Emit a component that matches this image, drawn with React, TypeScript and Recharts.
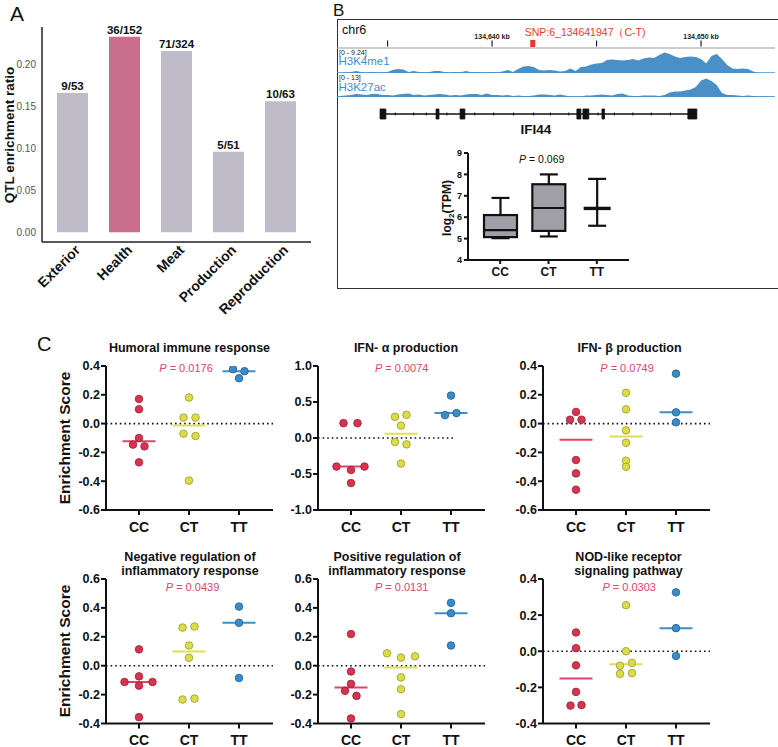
import React from "react";
import {
  BarChart,
  Bar,
  Cell,
  LabelList,
  XAxis,
  YAxis,
  AreaChart,
  Area,
  ComposedChart,
  ScatterChart,
  Scatter,
  ReferenceLine,
  ReferenceArea,
} from "recharts";

const FONT = '"Liberation Sans", Arial, Helvetica, sans-serif';

// ---- panel A: QTL enrichment ----
const qtlCategories = ["Exterior", "Health", "Meat", "Production", "Reproduction"];
const qtlRatios = [0.166, 0.233, 0.216, 0.096, 0.156];
const qtlCounts = ["9/53", "36/152", "71/324", "5/51", "10/63"];
const qtlHighlight = "Health";

// ---- panel B: genome browser tracks (signal per 0.25 kb bin) ----
const trackStartKb = 134632.5;
const trackBinKb = 0.25;
const kbDomain = [134632.58, 134653.54];
const snpKb = 134641.947;
const rulerTicks = [134635, 134640, 134645, 134650];
const rulerLabels: Record<number, string> = { 134640: "134,640 kb", 134650: "134,650 kb" };

const h3k4me1 = [
  0.12, 0.12, 0.2, 0.4, 0.8, 0.32, 0.2, 0.4, 0.2, 0.32,
  0.4, 1.2, 1.6, 1.4, 0.4, 0.8, 0.4, 0.2, 0.4, 0.8,
  0.8, 0.32, 0.2, 0.4, 0.32, 0.8, 0.32, 0.4, 0.2, 0.2,
  0.4, 0.2, 0.6, 1.2, 0.4, 1.6, 2.6, 2.8, 2.4, 1.2,
  1.0, 1.2, 1.0, 0.6, 0.8, 1.8, 0.8, 2.4, 2.6, 3.4,
  3.8, 4.0, 5.2, 5.4, 5.2, 5.0, 5.2, 5.6, 5.0, 5.8,
  6.2, 6.0, 7.2, 8.2, 7.6, 6.6, 6.0, 6.4, 6.6, 6.4,
  5.6, 3.8, 6.8, 7.6, 5.6, 3.2, 1.8, 1.6, 1.8, 1.6,
  0.6, 0, 0, 0, 0,
];
const h3k27ac = [
  0.62, 0.62, 0.93, 1.24, 1.86, 1.55, 1.24, 1.86, 1.86, 1.24,
  1.24, 0.93, 1.55, 1.86, 2.17, 1.24, 1.55, 0.93, 1.24, 1.55,
  1.86, 1.55, 0.93, 1.24, 0.93, 1.55, 1.86, 1.86, 1.24, 2.17,
  1.24, 1.24, 0.93, 1.24, 0.62, 0.93, 0.62, 0.62, 0.93, 1.55,
  1.55, 1.24, 0.93, 1.55, 0.93, 0.31, 0.31, 0.31, 0.93, 0.93,
  1.24, 1.55, 1.24, 0.93, 1.86, 2.17, 0.93, 0.62, 0.62, 0.93,
  0.93, 0.93, 0.62, 1.24, 2.79, 3.41, 3.41, 4.03, 4.65, 6.2,
  10.2, 11.5, 9.9, 7.4, 2.48, 1.24, 1.24, 0.93, 0.62, 0.93,
  0.62, 0.31, 0.31, 0.31, 0.31,
];

// IFI44 gene model (kb)
const exonStarts = [134634.64, 134637.32, 134638.47, 134644.06, 134644.35, 134645.26, 134649.37];
const exonEnds = [134634.92, 134637.46, 134638.7, 134644.25, 134644.63, 134645.38, 134649.8];
const intronMarks = [
  134635.37, 134636.25, 134636.85, 134637.84, 134639.17, 134640.08, 134641.03, 134641.99,
  134642.79, 134643.67, 134645.07, 134645.85, 134646.74, 134647.62, 134648.53,
];

// IFI44 expression box plot
const genotypes = ["CC", "CT", "TT"];
const tpmMin = [5.02, 5.1, 5.6];
const tpmQ1 = [5.07, 5.36, 6.41];
const tpmMedian = [5.4, 6.43, 6.41];
const tpmQ3 = [6.1, 7.54, 6.41];
const tpmMax = [6.9, 8.0, 7.79];

// ---- panel C: enrichment scores ----
const humoralCC = [0.171, 0.1, -0.1, -0.146, -0.158, -0.269];
const humoralCCJit = [0, 0, 0, -0.12, 0.11, 0];
const humoralCT = [0.181, 0.042, 0.042, -0.07, -0.086, -0.396];
const humoralCTJit = [0, -0.11, 0.13, -0.11, 0.13, 0];
const humoralTT = [0.378, 0.364, 0.315];
const humoralTTJit = [-0.12, 0.11, 0];

const ifnaCC = [0.206, 0.206, -0.397, -0.397, -0.444, -0.626];
const ifnaCCJit = [-0.15, 0.13, -0.29, 0.27, 0, 0];
const ifnaCT = [0.294, 0.322, 0.173, -0.056, -0.089, -0.355];
const ifnaCTJit = [-0.12, 0.11, 0, -0.12, 0.11, 0];
const ifnaTT = [0.589, 0.318, 0.346];
const ifnaTTJit = [0, -0.12, 0.11];

const ifnbCC = [0.081, 0.027, 0.027, -0.253, -0.346, -0.459];
const ifnbCCJit = [0, -0.12, 0.11, 0, 0, 0];
const ifnbCT = [0.214, 0.099, -0.047, -0.133, -0.258, -0.3];
const ifnbCTJit = [0, 0, 0, 0, 0, 0];
const ifnbTT = [0.347, 0.078, 0.009];
const ifnbTTJit = [0, 0, 0];

const negCC = [0.113, -0.074, -0.113, -0.113, -0.138, -0.356];
const negCCJit = [0, 0, -0.29, 0.27, 0, 0];
const negCT = [0.264, 0.271, 0.14, 0.055, -0.234, -0.228];
const negCTJit = [-0.13, 0.11, 0, 0, -0.13, 0.11];
const negTT = [0.409, 0.297, -0.085];
const negTTJit = [0, 0, 0];

const posCC = [0.219, -0.04, -0.126, -0.174, -0.209, -0.365];
const posCCJit = [0, 0, 0, -0.12, 0.11, 0];
const posCT = [0.086, 0.056, 0.065, -0.081, -0.163, -0.335];
const posCTJit = [-0.28, 0, 0.28, 0, 0, 0];
const posTT = [0.435, 0.363, 0.14];
const posTTJit = [0, 0, 0];

const nodCC = [0.104, 0.017, -0.078, -0.225, -0.301, -0.298];
const nodCCJit = [0, 0, 0, 0, -0.11, 0.11];
const nodCT = [0.255, 0, -0.08, -0.065, -0.125, -0.121];
const nodCTJit = [0, 0, -0.12, 0.12, -0.12, 0.12];
const nodTT = [0.326, 0.128, -0.026];
const nodTTJit = [0, 0, 0];

const dotFill = ["#d8344f", "#dcdb48", "#3a8cc8"];
const dotEdge = ["#9a1f36", "#9a9a2a", "#1f5f8f"];
const medianColor = ["#e04366", "#e0de55", "#3e8fca"];
const pColor = "#da4470";

const median = (a: number[]) => {
  const s = [...a].sort((p, q) => p - q);
  const n = s.length;
  return n % 2 ? s[(n - 1) / 2] : (s[n / 2 - 1] + s[n / 2]) / 2;
};

function T({ x, y, size = 12, bold = false, color = "#111", anchor = "middle", rotate = 0, italic = false, children }: any) {
  const tx = anchor === "middle" ? "-50%" : anchor === "end" ? "-100%" : "0";
  return (
    <div
      style={{
        position: "absolute",
        left: x,
        top: y,
        transform: `translate(${tx},-50%) rotate(${rotate}deg)`,
        fontSize: size,
        fontWeight: bold ? 700 : 400,
        fontStyle: italic ? "italic" : "normal",
        color,
        whiteSpace: "nowrap",
        lineHeight: 1,
      }}
    >
      {children}
    </div>
  );
}

const RotTick = (props: any) => {
  const { x, y, payload } = props;
  const ax = x + 9;
  const ay = y + 9;
  return (
    <text x={ax} y={ay} transform={`rotate(-45 ${ax} ${ay})`} textAnchor="end" fontSize={14} fontWeight={700} fill="#111">
      {payload.value}
    </text>
  );
};

function PanelA() {
  const data = qtlCategories.map((c, i) => ({ name: c, ratio: qtlRatios[i], count: qtlCounts[i] }));
  return (
    <div style={{ position: "absolute", left: 0, top: 0, width: 330, height: 330 }}>
      <BarChart width={320} height={330} data={data} margin={{ top: 27, right: 9, bottom: 38, left: 0 }}>
        <XAxis
          dataKey="name"
          height={50}
          interval={0}
          padding={{ left: 4, right: 5 }}
          tickSize={0}
          tickMargin={0}
          axisLine={{ stroke: "#222", strokeWidth: 1.5 }}
          tickLine={false}
          tick={<RotTick />}
        />
        <YAxis
          domain={[-0.0115, 0.2445]}
          ticks={[0, 0.05, 0.1, 0.15, 0.2]}
          allowDataOverflow
          width={42}
          tickSize={4}
          tickLine={false}
          axisLine={{ stroke: "#222", strokeWidth: 1.5 }}
          tickFormatter={(v: number) => v.toFixed(2)}
          tick={{ fill: "#555", fontSize: 10 }}
        />
        <Bar dataKey="ratio" barSize={31} isAnimationActive={false}>
          {data.map((d) => (
            <Cell key={d.name} fill={d.name === qtlHighlight ? "#c96e8c" : "#c0bbc9"} />
          ))}
          <LabelList dataKey="count" position="top" offset={3} style={{ fontWeight: 700, fontSize: 11.5, fill: "#111" }} />
        </Bar>
      </BarChart>
    </div>
  );
}

const RulerTick = (props: any) => {
  const { x, y, payload } = props;
  const v = payload.value;
  if (Math.abs(v - snpKb) < 0.01) {
    return (
      <g>
        <rect x={x - 2.5} y={y - 8} width={5} height={7} fill="#e8382e" />
        <text x={x - 8} y={y - 16.5} fontSize={10.5} fill="#e8382e" dominantBaseline="central">
          SNP:6_134641947（C-T)
        </text>
      </g>
    );
  }
  return (
    <g>
      <line x1={x} x2={x} y1={y - 7.5} y2={y - 1.5} stroke="#222" strokeWidth={1.2} />
      {rulerLabels[v] ? (
        <text x={x} y={y - 12} fontSize={7} fontWeight={700} textAnchor="middle" dominantBaseline="central" fill="#222">
          {rulerLabels[v]}
        </text>
      ) : null}
    </g>
  );
};

const IntronMark = (p: any) => <line x1={p.cx} x2={p.cx} y1={p.cy - 1.5} y2={p.cy + 1.5} stroke="#111" strokeWidth={1} />;

const BoxShape = (p: any) => {
  const { x, y, width, height, payload } = p;
  const top = Math.min(y, y + height);
  const h = Math.abs(height);
  const { min, max, q1, med, q3 } = payload;
  const py = (v: number) => top + (h * (max - v)) / (max - min);
  const cx = x + width / 2;
  const cap = 18;
  return (
    <g stroke="#111" strokeWidth={2.2} fill="none">
      <line x1={cx} x2={cx} y1={py(max)} y2={py(q3)} />
      <line x1={cx} x2={cx} y1={py(q1)} y2={py(min)} />
      <line x1={cx - cap / 2} x2={cx + cap / 2} y1={py(max)} y2={py(max)} />
      <line x1={cx - cap / 2} x2={cx + cap / 2} y1={py(min)} y2={py(min)} />
      {q3 > q1 ? <rect x={x} y={py(q3)} width={width} height={py(q1) - py(q3)} fill="#a09fa8" /> : null}
      <line x1={q3 > q1 ? x : x + 3} x2={q3 > q1 ? x + width : x + width - 3} y1={py(med)} y2={py(med)} strokeWidth={q3 > q1 ? 2.2 : 3.4} />
    </g>
  );
};

function PanelB() {
  const trackData = h3k4me1.map((v, i) => ({ kb: trackStartKb + i * trackBinKb, k4: v, k27: h3k27ac[i] }));
  const boxData = genotypes.map((g, i) => ({
    g,
    range: [tpmMin[i], tpmMax[i]],
    min: tpmMin[i],
    q1: tpmQ1[i],
    med: tpmMedian[i],
    q3: tpmQ3[i],
    max: tpmMax[i],
  }));
  const blue = "#4a8fc6";
  return (
    <>
      <div
        style={{
          position: "absolute",
          left: 337,
          top: 19,
          width: 441,
          height: 270,
          border: "1.5px solid #333",
          borderRight: "none",
          boxSizing: "border-box",
        }}
      />
      <T x={342} y={30} size={12.5} anchor="start">chr6</T>
      <div style={{ position: "absolute", left: 337, top: 20 }}>
        <AreaChart width={438} height={53} data={trackData} margin={{ top: 0, right: 0, bottom: 0, left: 0 }}>
          <XAxis
            dataKey="kb"
            type="number"
            orientation="top"
            domain={kbDomain}
            allowDataOverflow
            ticks={[...rulerTicks, snpKb].sort((a, b) => a - b)}
            interval={0}
            height={28}
            tickSize={0}
            tickMargin={0}
            axisLine={{ stroke: "#9a9a9a", strokeWidth: 1 }}
            tick={<RulerTick />}
          />
          <YAxis hide domain={[0, 10]} allowDataOverflow />
          <Area dataKey="k4" type="linear" stroke="none" fill={blue} fillOpacity={1} isAnimationActive={false} />
          <ReferenceLine y={0} stroke={blue} strokeWidth={1.5} />
        </AreaChart>
      </div>
      <div style={{ position: "absolute", left: 337, top: 76 }}>
        <AreaChart width={438} height={21} data={trackData} margin={{ top: 0, right: 0, bottom: 0, left: 0 }}>
          <XAxis dataKey="kb" type="number" domain={kbDomain} allowDataOverflow hide />
          <YAxis hide domain={[0, 13]} allowDataOverflow />
          <Area dataKey="k27" type="linear" stroke="none" fill={blue} fillOpacity={1} isAnimationActive={false} />
          <ReferenceLine y={0} stroke={blue} strokeWidth={1.5} />
        </AreaChart>
      </div>
      <T x={339} y={51.7} size={7} anchor="start" color="#222">[0 - 9.24]</T>
      <T x={338.5} y={62} size={11.5} anchor="start" color="#3d8fce">H3K4me1</T>
      <T x={339} y={77.3} size={7} anchor="start" color="#222">[0 - 13]</T>
      <T x={338.5} y={87.5} size={11.5} anchor="start" color="#3d8fce">H3K27ac</T>
      <div style={{ position: "absolute", left: 337, top: 99 }}>
        <ComposedChart width={438} height={30} margin={{ top: 0, right: 0, bottom: 0, left: 0 }}>
          <XAxis dataKey="kb" type="number" domain={kbDomain} allowDataOverflow hide />
          <YAxis hide domain={[0, 1]} />
          <ReferenceLine
            segment={[
              { x: exonStarts[0], y: 0.5 },
              { x: exonEnds[exonEnds.length - 1], y: 0.5 },
            ]}
            stroke="#111"
            strokeWidth={1.5}
          />
          {exonStarts.map((s, i) => (
            <ReferenceArea key={i} x1={s} x2={exonEnds[i]} y1={0.333} y2={0.667} fill="#111" fillOpacity={1} stroke="#111" strokeWidth={0.8} />
          ))}
          <Scatter data={intronMarks.map((kb) => ({ kb, y: 0.5 }))} dataKey="y" shape={IntronMark} isAnimationActive={false} />
        </ComposedChart>
      </div>
      <T x={536} y={130} size={13.5} bold>IFI44</T>
      <div style={{ position: "absolute", left: 420, top: 141 }}>
        <ComposedChart width={215} height={144} data={boxData} margin={{ top: 12, right: 6, bottom: 0, left: 0 }}>
          <XAxis
            dataKey="g"
            padding={{ left: 8, right: 8 }}
            height={25}
            tickSize={4}
            tickMargin={3}
            axisLine={{ stroke: "#111", strokeWidth: 2 }}
            tickLine={{ stroke: "#111", strokeWidth: 2 }}
            tick={{ fill: "#111", fontSize: 12, fontWeight: 700 }}
          />
          <YAxis
            domain={[4, 9]}
            ticks={[4, 5, 6, 7, 8, 9]}
            width={48}
            tickSize={4}
            tickMargin={2}
            axisLine={{ stroke: "#111", strokeWidth: 2 }}
            tickLine={{ stroke: "#111", strokeWidth: 2 }}
            tick={{ fill: "#111", fontSize: 9, fontWeight: 700 }}
          />
          <Bar dataKey="range" barSize={33} shape={BoxShape} isAnimationActive={false} />
        </ComposedChart>
      </div>
      <T x={446.7} y={208} size={12} bold rotate={-90}>
        log<span style={{ fontSize: 8, position: "relative", top: 3 }}>2</span>(TPM)
      </T>
      <T x={541.7} y={159} size={10.5}>
        <i>P</i> = 0.069
      </T>
    </>
  );
}

const makeDot = (gi: number) => (p: any) => (
  <circle cx={p.cx} cy={p.cy} r={3.8} fill={dotFill[gi]} stroke={dotEdge[gi]} strokeWidth={0.8} />
);
const makeMedian = (gi: number) => (p: any) => (
  <line x1={p.cx - 16.5} x2={p.cx + 16.5} y1={p.cy} y2={p.cy} stroke={medianColor[gi]} strokeWidth={2} />
);

function DotPlot({ axisX, plotTop, plotH, domain, ticks, groups, zeroEnd }: any) {
  const YW = 45;
  const PW = 167;
  const MT = 10;
  const XH = 30;
  const xDomain = [-0.66, 2.68];
  return (
    <div style={{ position: "absolute", left: axisX - YW, top: plotTop - MT }}>
      <ScatterChart width={YW + PW + 4} height={MT + plotH + XH} margin={{ top: MT, right: 4, bottom: 0, left: 0 }}>
        <XAxis
          type="number"
          dataKey="x"
          domain={xDomain}
          allowDataOverflow
          ticks={[0, 1, 2]}
          interval={0}
          tickFormatter={(v: number) => genotypes[v]}
          height={XH}
          tickSize={5}
          tickMargin={7}
          axisLine={{ stroke: "#111", strokeWidth: 2 }}
          tickLine={{ stroke: "#111", strokeWidth: 2 }}
          tick={{ fill: "#111", fontSize: 14, fontWeight: 700 }}
        />
        <YAxis
          type="number"
          dataKey="y"
          domain={domain}
          allowDataOverflow
          ticks={ticks}
          interval={0}
          width={YW}
          tickSize={5}
          tickMargin={1}
          tickFormatter={(v: number) => v.toFixed(1)}
          axisLine={{ stroke: "#111", strokeWidth: 2 }}
          tickLine={{ stroke: "#111", strokeWidth: 2 }}
          tick={{ fill: "#111", fontSize: 12.5, fontWeight: 700 }}
        />
        {zeroEnd !== undefined ? (
          <ReferenceLine
            segment={[
              { x: xDomain[0], y: 0 },
              { x: zeroEnd, y: 0 },
            ]}
            stroke="#111"
            strokeWidth={1.6}
            strokeDasharray="1.6 3"
          />
        ) : (
          <ReferenceLine y={0} stroke="#111" strokeWidth={1.6} strokeDasharray="1.6 3" />
        )}
        {groups.map((g: any, gi: number) => (
          <Scatter
            key={"m" + gi}
            data={[{ x: gi, y: median(g.values) }]}
            shape={makeMedian(gi)}
            isAnimationActive={false}
          />
        ))}
        {groups.map((g: any, gi: number) => (
          <Scatter
            key={"d" + gi}
            data={g.values.map((v: number, i: number) => ({ x: gi + g.jitter[i], y: v }))}
            shape={makeDot(gi)}
            isAnimationActive={false}
          />
        ))}
      </ScatterChart>
    </div>
  );
}

const topTicksA = [-0.6, -0.4, -0.2, 0, 0.2, 0.4];
const botTicks = [-0.4, -0.2, 0, 0.2, 0.4, 0.6];

const panels = [
  {
    title: ["Humoral immune response"], p: "0.0176", axisX: 106, row: 0, titleX: 189.5, pX: 186,
    domain: [-0.6, 0.4], ticks: topTicksA,
    groups: [
      { values: humoralCC, jitter: humoralCCJit },
      { values: humoralCT, jitter: humoralCTJit },
      { values: humoralTT, jitter: humoralTTJit },
    ],
  },
  {
    title: ["IFN- α production"], p: "0.0074", axisX: 318.3, row: 0, titleX: 406, pX: 401.7,
    domain: [-1, 1], ticks: [-1, -0.5, 0, 0.5, 1], zeroEnd: 2.04,
    groups: [
      { values: ifnaCC, jitter: ifnaCCJit },
      { values: ifnaCT, jitter: ifnaCTJit },
      { values: ifnaTT, jitter: ifnaTTJit },
    ],
  },
  {
    title: ["IFN- β production"], p: "0.0749", axisX: 543.3, row: 0, titleX: 629.5, pX: 627,
    domain: [-0.6, 0.4], ticks: topTicksA,
    groups: [
      { values: ifnbCC, jitter: ifnbCCJit },
      { values: ifnbCT, jitter: ifnbCTJit },
      { values: ifnbTT, jitter: ifnbTTJit },
    ],
  },
  {
    title: ["Negative regulation of", "inflammatory response"], p: "0.0439", axisX: 106, row: 1, titleX: 190, pX: 192.5,
    domain: [-0.4, 0.6], ticks: botTicks,
    groups: [
      { values: negCC, jitter: negCCJit },
      { values: negCT, jitter: negCTJit },
      { values: negTT, jitter: negTTJit },
    ],
  },
  {
    title: ["Positive regulation of", "inflammatory response"], p: "0.0131", axisX: 318.3, row: 1, titleX: 397, pX: 401.7,
    domain: [-0.4, 0.6], ticks: botTicks,
    groups: [
      { values: posCC, jitter: posCCJit },
      { values: posCT, jitter: posCTJit },
      { values: posTT, jitter: posTTJit },
    ],
  },
  {
    title: ["NOD-like receptor", "signaling pathway"], p: "0.0303", axisX: 543.3, row: 1, titleX: 628.5, pX: 629.2,
    domain: [-0.4, 0.4], ticks: [-0.4, -0.2, 0, 0.2, 0.4],
    groups: [
      { values: nodCC, jitter: nodCCJit },
      { values: nodCT, jitter: nodCTJit },
      { values: nodTT, jitter: nodTTJit },
    ],
  },
];

function PanelC() {
  const rows = [
    { plotTop: 366, plotH: 144, titleY: [348], pY: 367.5, labelY: 438 },
    { plotTop: 578.5, plotH: 144.5, titleY: [556.7, 571], pY: 586.5, labelY: 651 },
  ];
  return (
    <>
      {panels.map((p, i) => {
        const r = rows[p.row];
        return (
          <React.Fragment key={i}>
            <DotPlot
              axisX={p.axisX}
              plotTop={r.plotTop}
              plotH={r.plotH}
              domain={p.domain}
              ticks={p.ticks}
              groups={p.groups}
              zeroEnd={(p as any).zeroEnd}
            />
            {p.title.map((t, k) => (
              <T key={k} x={p.titleX} y={p.title.length === 1 ? r.titleY[0] : r.titleY[k]} size={12.5} bold>
                {t}
              </T>
            ))}
            <T x={p.pX} y={r.pY} size={11} color={pColor}>
              <i>P</i> = {p.p}
            </T>
          </React.Fragment>
        );
      })}
      <T x={65} y={rows[0].labelY} size={15.5} bold rotate={-90}>Enrichment Score</T>
      <T x={65} y={rows[1].labelY} size={15.5} bold rotate={-90}>Enrichment Score</T>
    </>
  );
}

export default function App() {
  return (
    <div
      style={{
        position: "absolute",
        left: 0,
        top: 0,
        width: 778,
        height: 747,
        background: "#fff",
        fontFamily: FONT,
        overflow: "hidden",
      }}
    >
      <PanelA />
      <T x={10} y={12.5} size={21} anchor="start">A</T>
      <T x={10} y={135} size={13.5} bold rotate={-90}>QTL enrichment ratio</T>
      <T x={333} y={10} size={17} anchor="start">B</T>
      <PanelB />
      <T x={37} y={343.5} size={20} anchor="start">C</T>
      <PanelC />
    </div>
  );
}
